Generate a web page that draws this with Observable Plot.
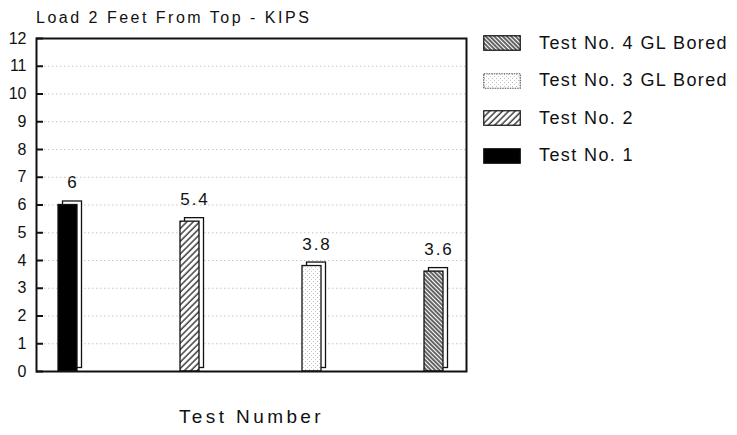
<!DOCTYPE html>
<html><head><meta charset="utf-8">
<script src="https://cdn.jsdelivr.net/npm/d3@7"></script>
<script src="https://cdn.jsdelivr.net/npm/@observablehq/plot@0.6"></script>
<style>
body{margin:0;background:#fff;font-family:"Liberation Sans",Arial,sans-serif;color:#111;}
#wrap{position:relative;width:737px;height:435px;overflow:hidden;}
#title{position:absolute;left:36px;top:9px;font-size:16px;letter-spacing:2.5px;white-space:nowrap;}
.lg{position:absolute;left:483px;height:22px;display:flex;align-items:center;font-size:18px;letter-spacing:1.4px;white-space:nowrap;}
.lg svg{margin-right:18px;display:block;}
#chart{position:absolute;left:0;top:0;}
</style></head><body>
<svg width="0" height="0" style="position:absolute">
<defs>
<pattern id="hatch2" width="4.5" height="4.5" patternUnits="userSpaceOnUse" patternTransform="rotate(45)">
<rect width="4.5" height="4.5" fill="#fff"/><line x1="1" y1="0" x2="1" y2="4.5" stroke="#111" stroke-width="1.2"/>
</pattern>
<pattern id="hatch4" width="3" height="3" patternUnits="userSpaceOnUse" patternTransform="rotate(-45)">
<rect width="3" height="3" fill="#fff"/><line x1="1" y1="0" x2="1" y2="3" stroke="#222" stroke-width="1.4"/>
</pattern>
<pattern id="dots3" width="4" height="4" patternUnits="userSpaceOnUse">
<rect width="4" height="4" fill="#fff"/><rect x="1" y="1" width="1" height="1" fill="#bbb"/><rect x="3" y="3" width="1" height="1" fill="#ccc"/>
</pattern>
</defs>
</svg>
<div id="wrap">
<div id="chart"></div>
<div id="title"></div>
</div>
<script>
const chartTitle = "Load 2 Feet From Top - KIPS";
const xTitle = "Test Number";
const tests = ["Test No. 1", "Test No. 2", "Test No. 3 GL Bored", "Test No. 4 GL Bored"];
const loads = [6, 5.4, 3.8, 3.6];
const valueLabels = ["6", "5.4", "3.8", "3.6"];
const yTicks = [0,1,2,3,4,5,6,7,8,9,10,11,12];
const gridValues = [1,2,3,4,5,6,7,8,9,10,11];

const fillRange = ["#000", "url(#hatch2)", "url(#dots3)", "url(#hatch4)"];
const data = tests.map((t, i) => ({test: t, load: loads[i], label: valueLabels[i]}));

const chart = Plot.plot({
  width: 737, height: 435,
  marginLeft: 36, marginRight: 271, marginTop: 38, marginBottom: 64,
  style: {fontFamily: '"Liberation Sans", Arial, sans-serif', fontSize: "16px", background: "transparent", color: "#111", overflow: "visible"},
  x: {domain: tests, paddingInner: 0.844, paddingOuter: 0.184, axis: null},
  y: {domain: [0, 12]},
  color: {type: "ordinal", domain: tests, range: fillRange},
  marks: [
    Plot.ruleY(gridValues, {stroke: "#999", strokeOpacity: 0.55, strokeDasharray: "1.5,2.5", strokeWidth: 1}),
    Plot.barY(data, {x: "test", y: "load", dx: 4.5, dy: -3.5, fill: "white", stroke: "#111", strokeWidth: 1.3}),
    Plot.barY(data, {x: "test", y: "load", fill: "test", stroke: "#111", strokeWidth: 1.3}),
    Plot.text(data, {x: "test", y: "load", text: "label", dy: -22, dx: 5, fontSize: 17, fill: "#111", ariaLabel: "values"}),
    Plot.axisY({ticks: yTicks, tickSize: -7, tickPadding: 17, strokeWidth: 2, fontSize: 16, label: null, fill: "#111"}),
    Plot.frame({stroke: "#111", strokeWidth: 2}),
    Plot.text([xTitle], {frameAnchor: "bottom", dy: 51, fontSize: 19, fill: "#111", ariaLabel: "xlabel"})
  ]
});
document.getElementById("chart").appendChild(chart);
document.getElementById("title").textContent = chartTitle;

d3.select(chart).selectAll("text").each(function() {
  const t = this.textContent;
  if (t === xTitle) this.style.letterSpacing = "3.4px";
  else if (valueLabels.includes(t) && this.closest("g") && !this.closest('g[aria-label="y-axis tick label"]')) {
    this.style.letterSpacing = "2px";
  }
});

const wrap = document.getElementById("wrap");
const color = chart.scale("color");
const order = tests.slice().reverse();
const rowCenters0 = 43, rowStep = 37.5;
order.forEach((t, i) => {
  const row = document.createElement("div");
  row.className = "lg";
  row.style.top = (rowCenters0 + i * rowStep - 11) + "px";
  const sw = d3.create("svg").attr("width", 38).attr("height", 16);
  sw.append("rect").attr("x", 0.75).attr("y", 0.75).attr("width", 36.5).attr("height", 14.5)
    .attr("fill", color.apply(t)).attr("stroke", t.includes("3") ? "#555" : "#111").attr("stroke-width", 1.2)
    .attr("stroke-dasharray", t.includes("3") ? "1.5,1" : null);
  row.appendChild(sw.node());
  const span = document.createElement("span");
  span.textContent = t;
  row.appendChild(span);
  wrap.appendChild(row);
});
</script>
</body></html>
